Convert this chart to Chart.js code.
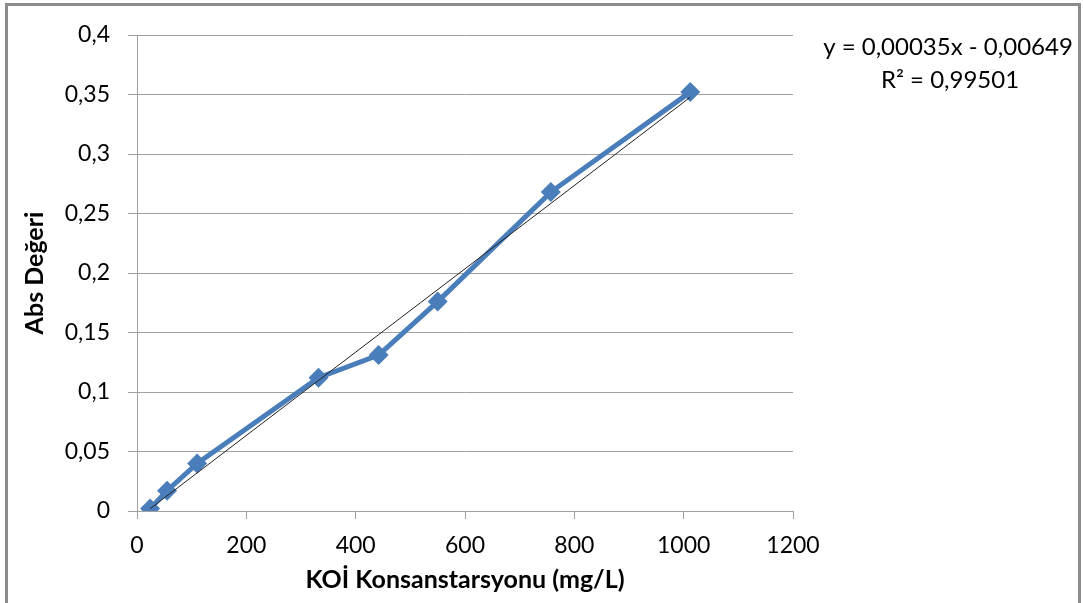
<!DOCTYPE html>
<html>
<head>
<meta charset="utf-8">
<script src="https://cdn.jsdelivr.net/npm/chart.js@4"></script>
<style>
  html, body { margin: 0; padding: 0; background: #fff; }
  #wrap { position: relative; width: 1083px; height: 603px; }
  #frame { position: absolute; left: 5px; top: 3px; width: 1076px; height: 620px; border: 3px solid #8c8c8c; box-sizing: border-box; pointer-events: none; }
  canvas { position: absolute; left: 0; top: 0; }
</style>
</head>
<body>
<div id="wrap">
  <canvas id="c" width="1083" height="603"></canvas>
  <div id="frame"></div>
</div>
<script>
const concentrations = [24, 55, 110, 332, 442, 550, 757, 1012];
const absValues = [0.002, 0.017, 0.040, 0.112, 0.131, 0.176, 0.268, 0.352];
const trendX = [24, 1012];
const trendY = [0.0019, 0.3477];
const xTicks = [0, 200, 400, 600, 800, 1000, 1200];
const yTicks = [0, 0.05, 0.1, 0.15, 0.2, 0.25, 0.3, 0.35, 0.4];
const equationLines = ['y = 0,00035x - 0,00649', 'R² = 0,99501'];
const xTitle = 'KOİ Konsanstarsyonu (mg/L)';
const yTitle = 'Abs Değeri';

const FONT = 'Lato, "Open Sans", sans-serif';

const fmt = v => String(Math.round(v * 1000) / 1000).replace('.', ',');

const eqPlugin = {
  id: 'eq',
  afterDraw(chart) {
    const ctx = chart.ctx;
    ctx.save();
    ctx.fillStyle = '#000';
    ctx.font = '24px ' + FONT;
    ctx.textAlign = 'center';
    ctx.textBaseline = 'middle';
    ctx.fillText(equationLines[0], 948, 47);
    ctx.fillText(equationLines[1], 950, 80);
    ctx.restore();
  }
};

new Chart(document.getElementById('c'), {
  type: 'scatter',
  data: {
    datasets: [
      {
        label: 'trend',
        data: trendX.map((x, i) => ({ x, y: trendY[i] })),
        showLine: true,
        borderColor: '#222',
        borderWidth: 1,
        pointRadius: 0,
        order: 0
      },
      {
        label: 'Abs',
        data: concentrations.map((x, i) => ({ x, y: absValues[i] })),
        showLine: true,
        borderColor: '#4a7ebb',
        backgroundColor: '#4a7ebb',
        borderWidth: 5,
        pointStyle: 'rectRot',
        pointRadius: 10,
        pointBorderWidth: 0,
        order: 1
      }
    ]
  },
  options: {
    responsive: false,
    animation: false,
    devicePixelRatio: 1,
    layout: { padding: { top: 35, right: 290, left: 0, bottom: 0 } },
    plugins: { legend: { display: false }, tooltip: { enabled: false } },
    scales: {
      x: {
        type: 'linear',
        min: 0, max: 1200,
        afterBuildTicks: s => { s.ticks = xTicks.map(v => ({ value: v })); },
        afterFit: s => { s.height = 92; },
        ticks: { color: '#000', font: { family: FONT, size: 23 }, padding: 13, maxRotation: 0, callback: v => String(v) },
        grid: { drawOnChartArea: false, drawTicks: true, tickLength: 8, color: '#a0a0a0', lineWidth: 1 },
        border: { color: '#a0a0a0', width: 1 },
        title: { display: true, text: xTitle, color: '#000', font: { family: FONT, size: 25, weight: 'bold' }, padding: { top: 0, bottom: 8 } }
      },
      y: {
        type: 'linear',
        min: 0, max: 0.4,
        afterBuildTicks: s => { s.ticks = yTicks.map(v => ({ value: v })); },
        afterFit: s => { s.width = 137; },
        ticks: { color: '#000', font: { family: FONT, size: 23 }, padding: 18, callback: v => fmt(v) },
        grid: { drawTicks: true, tickLength: 9, color: '#a0a0a0', lineWidth: 1 },
        border: { color: '#a0a0a0', width: 1 },
        title: { display: true, text: yTitle, color: '#000', font: { family: FONT, size: 25, weight: 'bold' }, padding: { top: 20, bottom: 0 } }
      }
    }
  },
  plugins: [eqPlugin]
});
</script>
</body>
</html>
